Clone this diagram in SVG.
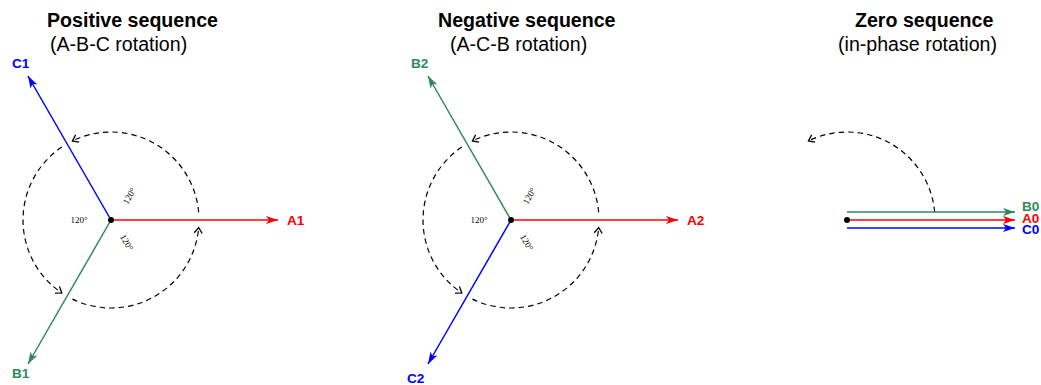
<svg xmlns="http://www.w3.org/2000/svg" width="1041" height="385" viewBox="0 0 1041 385">
<style>
.title{font-family:"Liberation Sans",Arial,sans-serif;font-size:19.6px;font-weight:bold;fill:#000}
.sub{font-family:"Liberation Sans",Arial,sans-serif;font-size:19.6px;fill:#000}
.lbl{font-family:"Liberation Sans",Arial,sans-serif;font-size:13.6px;font-weight:bold}
.ang{font-family:"Liberation Serif","Times New Roman",serif;font-size:9px;fill:#000}
.r{fill:#ff0000}.g{fill:#2e8b57}.b{fill:#0000ff}
.vr{stroke:#ff0000;stroke-width:1.5;fill:none;marker-end:url(#ar)}
.vg{stroke:#2e8b57;stroke-width:1.5;fill:none;marker-end:url(#ag)}
.vb{stroke:#0000ff;stroke-width:1.5;fill:none;marker-end:url(#ab)}
.rot{stroke:#000;stroke-width:1.2;fill:none;stroke-dasharray:5.5,4;marker-end:url(#open)}
</style>
<defs>
<marker id="ar" viewBox="-13 -5 14 10" refX="0" refY="0" markerWidth="14" markerHeight="10" markerUnits="userSpaceOnUse" orient="auto"><path d="M0,0 L-12,-4 L-9,0 L-12,4 Z" fill="#ff0000"/></marker>
<marker id="ag" viewBox="-13 -5 14 10" refX="0" refY="0" markerWidth="14" markerHeight="10" markerUnits="userSpaceOnUse" orient="auto"><path d="M0,0 L-12,-4 L-9,0 L-12,4 Z" fill="#2e8b57"/></marker>
<marker id="ab" viewBox="-13 -5 14 10" refX="0" refY="0" markerWidth="14" markerHeight="10" markerUnits="userSpaceOnUse" orient="auto"><path d="M0,0 L-12,-4 L-9,0 L-12,4 Z" fill="#0000ff"/></marker>
<marker id="open" viewBox="-8 -6 10 12" refX="0" refY="0" markerWidth="10" markerHeight="12" markerUnits="userSpaceOnUse" orient="auto"><path d="M-5.5,-4 L0,0 L-5.5,4" fill="none" stroke="#000" stroke-width="1.3"/></marker>
</defs>

<g id="titles">
<text class="title" x="47" y="27">Positive sequence</text>
<text class="sub" x="50" y="51">(A-B-C rotation)</text>
<text class="title" x="438" y="27">Negative sequence</text>
<text class="sub" x="450" y="51">(A-C-B rotation)</text>
<text class="title" x="855" y="27">Zero sequence</text>
<text class="sub" x="838" y="51">(in-phase rotation)</text>
</g>

<g id="connectors">
<path class="rot" d="M198.67,212.33 A88,88 0 0 0 72.42,140.91"/>
<path class="rot" d="M61.79,147.05 A88,88 0 0 0 61.79,292.95"/>
<path class="rot" d="M72.42,299.09 A88,88 0 0 0 198.67,227.67"/>
<line class="vr" x1="111" y1="220" x2="278" y2="220"/>
<line class="vb" x1="111" y1="220" x2="28" y2="76"/>
<line class="vg" x1="111" y1="220" x2="28" y2="364"/>
<path class="rot" d="M598.67,212.33 A88,88 0 0 0 472.42,140.91"/>
<path class="rot" d="M461.79,147.05 A88,88 0 0 0 461.79,292.95"/>
<path class="rot" d="M472.42,299.09 A88,88 0 0 0 598.67,227.67"/>
<line class="vr" x1="511" y1="220" x2="678" y2="220"/>
<line class="vg" x1="511" y1="220" x2="428" y2="76"/>
<line class="vb" x1="511" y1="220" x2="428" y2="364"/>
<path class="rot" d="M934.67,212 A88,88 0 0 0 808.42,140.91"/>
<line class="vg" x1="847" y1="212" x2="1015" y2="212"/>
<line class="vr" x1="847" y1="220" x2="1015" y2="220"/>
<line class="vb" x1="847" y1="228" x2="1015" y2="228"/>
</g>

<g id="positive">
<circle cx="111" cy="220" r="3" fill="#000"/>
<text class="lbl r" x="287" y="224.5">A1</text>
<text class="lbl b" x="12" y="68">C1</text>
<text class="lbl g" x="12" y="378">B1</text>
<text class="ang" x="79" y="223" text-anchor="middle">120°</text>
<text class="ang" text-anchor="middle" transform="translate(129.5,196) rotate(-60)" y="3">120°</text>
<text class="ang" text-anchor="middle" transform="translate(126.5,242.5) rotate(60)" y="3">120°</text>
</g>

<g id="negative">
<circle cx="511" cy="220" r="3" fill="#000"/>
<text class="lbl r" x="687" y="224.5">A2</text>
<text class="lbl g" x="411" y="68">B2</text>
<text class="lbl b" x="407" y="383">C2</text>
<text class="ang" x="479" y="223" text-anchor="middle">120°</text>
<text class="ang" text-anchor="middle" transform="translate(529.5,196) rotate(-60)" y="3">120°</text>
<text class="ang" text-anchor="middle" transform="translate(526.5,242.5) rotate(60)" y="3">120°</text>
</g>

<g id="zero">
<circle cx="847" cy="220" r="3" fill="#000"/>
<text class="lbl g" x="1022" y="211">B0</text>
<text class="lbl r" x="1022" y="222.5">A0</text>
<text class="lbl b" x="1022" y="234">C0</text>
</g>
</svg>
